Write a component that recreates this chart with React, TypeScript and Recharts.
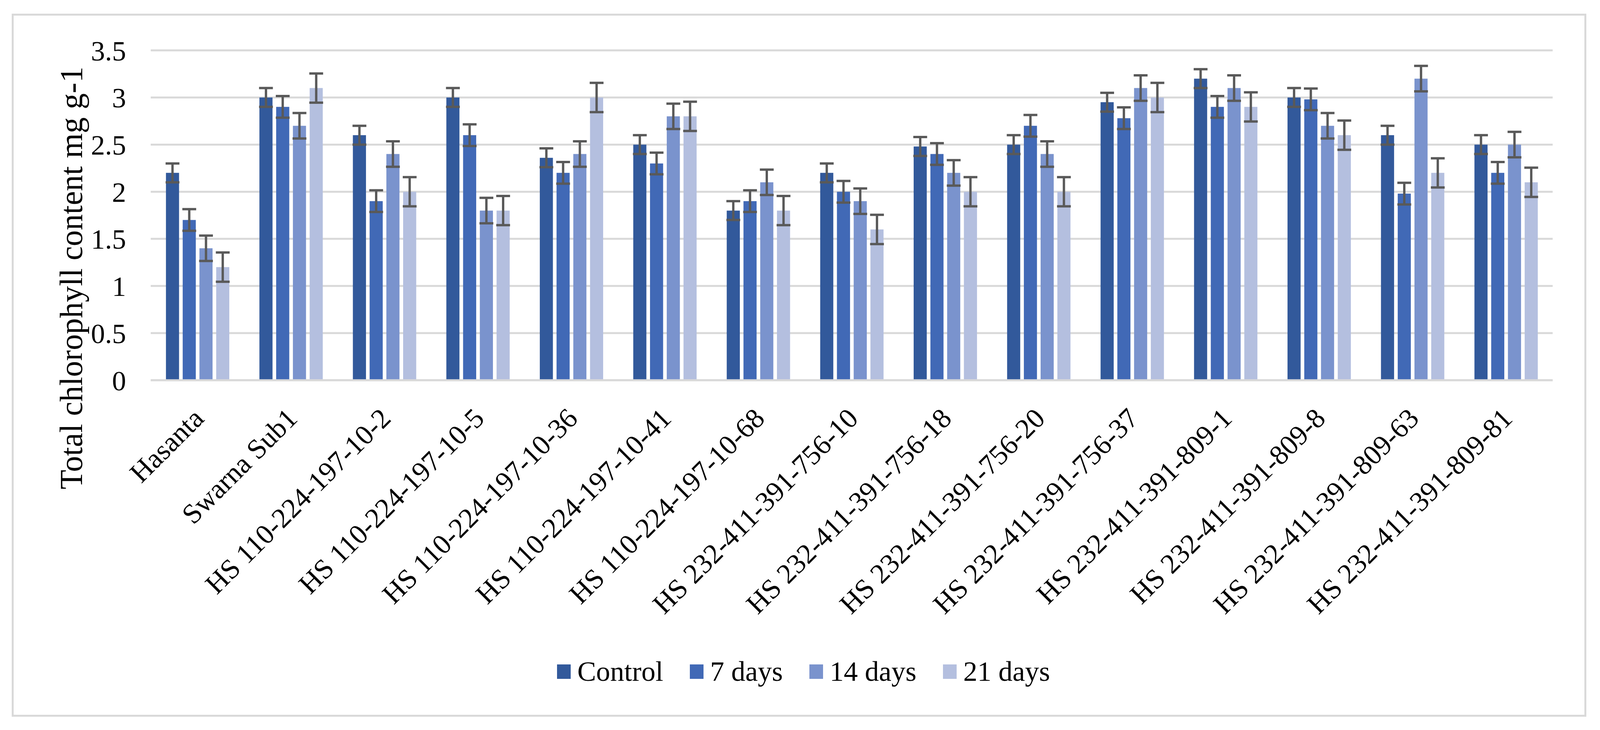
import React from 'react'
import {
  BarChart,
  Bar,
  ErrorBar,
  XAxis,
  YAxis,
  CartesianGrid,
  Legend,
} from 'recharts'

// values
const categories = [
  'Hasanta',
  'Swarna Sub1',
  'HS 110-224-197-10-2',
  'HS 110-224-197-10-5',
  'HS 110-224-197-10-36',
  'HS 110-224-197-10-41',
  'HS 110-224-197-10-68',
  'HS 232-411-391-756-10',
  'HS 232-411-391-756-18',
  'HS 232-411-391-756-20',
  'HS 232-411-391-756-37',
  'HS 232-411-391-809-1',
  'HS 232-411-391-809-8',
  'HS 232-411-391-809-63',
  'HS 232-411-391-809-81',
]

const control = [2.2, 3.0, 2.6, 3.0, 2.36, 2.5, 1.8, 2.2, 2.48, 2.5, 2.95, 3.2, 3.0, 2.6, 2.5]
const days7 = [1.7, 2.9, 1.9, 2.6, 2.2, 2.3, 1.9, 2.0, 2.4, 2.7, 2.78, 2.9, 2.98, 1.98, 2.2]
const days14 = [1.4, 2.7, 2.4, 1.8, 2.4, 2.8, 2.1, 1.9, 2.2, 2.4, 3.1, 3.1, 2.7, 3.2, 2.5]
const days21 = [1.2, 3.1, 2.0, 1.8, 3.0, 2.8, 1.8, 1.6, 2.0, 2.0, 3.0, 2.9, 2.6, 2.2, 2.1]

// standard error per series (same for every bar of a series)
const seriesNames = ['Control', '7 days', '14 days', '21 days']
const seriesErrors = [0.1, 0.115, 0.135, 0.155]
const seriesColors = ['#32599b', '#4169b6', '#7a93cd', '#b4bfdf']

const yTicks = [0, 0.5, 1, 1.5, 2, 2.5, 3, 3.5]

const data = categories.map((name, i) => ({
  name,
  control: control[i],
  days7: days7[i],
  days14: days14[i],
  days21: days21[i],
  err0: seriesErrors[0],
  err1: seriesErrors[1],
  err2: seriesErrors[2],
  err3: seriesErrors[3],
}))

const keys = ['control', 'days7', 'days14', 'days21']
const font = '"Liberation Serif", "Times New Roman", serif'

// the browser window is only 4096px wide, so squeeze the 4395px layout horizontally
const sx = 4096 / 4395
const W = 4080
const H = 1850
const plotLeft = 414 * sx - 8
const plotRight = 4265 * sx - 8
const yAxisW = 100

function CategoryTick({ x, y, payload }: any) {
  const px = x - 17 * sx
  return (
    <text
      x={px}
      y={y}
      dy="0.71em"
      transform={`rotate(-45, ${px}, ${y})`}
      textAnchor="end"
      fontSize={72}
      fontFamily={font}
      fill="#000"
    >
      {payload.value}
    </text>
  )
}

function LegendContent({ payload }: any) {
  // keep series order (legend sorts by name otherwise)
  const items = [...(payload || [])].sort(
    (a: any, b: any) => seriesNames.indexOf(a.value) - seriesNames.indexOf(b.value)
  )
  return (
    <div
      style={{
        display: 'flex',
        justifyContent: 'center',
        alignItems: 'center',
        height: 90,
        paddingLeft: 18,
        fontFamily: font,
        fontSize: 72,
        color: '#000',
      }}
    >
      {items.map((p: any, i: number) => (
        <div
          key={p.value}
          style={{ display: 'flex', alignItems: 'center', marginLeft: i === 0 ? 0 : 68 }}
        >
          <span
            style={{ display: 'inline-block', width: 35, height: 37, background: p.color, marginRight: 17 }}
          />
          <span style={{ lineHeight: '90px' }}>{p.value}</span>
        </div>
      ))}
    </div>
  )
}

function YTitle() {
  const cx = 196 * sx - 8
  return (
    <text
      x={cx}
      y={704}
      transform={`rotate(-90, ${cx}, 704)`}
      textAnchor="middle"
      dominantBaseline="central"
      fontSize={82}
      fontFamily={font}
      fill="#000"
    >
      Total chlorophyll content mg g-1
    </text>
  )
}

export default function App() {
  return (
    <div style={{ position: 'relative', width: W, height: H }}>
      <div
        style={{
          position: 'absolute',
          left: 32 * sx - 8,
          top: 27,
          width: (4357 - 32) * sx,
          height: 1801,
          border: '5px solid #d9d9d9',
          boxSizing: 'border-box',
        }}
      />
      <div style={{ position: 'absolute', left: 0, top: 0 }}>
        <BarChart
          width={W}
          height={H}
          data={data}
          margin={{ top: 121, right: W - plotRight, left: plotLeft - yAxisW, bottom: 184 }}
          barSize={36 * sx}
          barGap={10 * sx}
        >
          <CartesianGrid vertical={false} stroke="#d9d9d9" strokeWidth={5} />
          <XAxis
            dataKey="name"
            interval={0}
            height={700}
            tickLine={false}
            tickSize={6}
            tickMargin={60}
            axisLine={{ stroke: '#d9d9d9', strokeWidth: 5 }}
            tick={<CategoryTick />}
          />
          <YAxis
            width={yAxisW}
            domain={[0, 3.5]}
            ticks={yTicks}
            tickLine={false}
            axisLine={false}
            tickSize={8}
            tickMargin={55}
            tick={{ fontSize: 72, fill: '#000', fontFamily: font }}
            label={{ content: () => <YTitle /> }}
          />
          <Legend
            layout="horizontal"
            verticalAlign="middle"
            align="center"
            content={<LegendContent />}
            wrapperStyle={{ top: 1667, left: 0, width: W }}
          />
          {keys.map((k, i) => (
            <Bar
              key={k}
              dataKey={k}
              name={seriesNames[i]}
              fill={seriesColors[i]}
              isAnimationActive={false}
            >
              <ErrorBar
                dataKey={`err${i}`}
                direction="y"
                width={19 * sx}
                strokeWidth={6}
                stroke="#595959"
                isAnimationActive={false}
              />
            </Bar>
          ))}
        </BarChart>
      </div>
    </div>
  )
}
